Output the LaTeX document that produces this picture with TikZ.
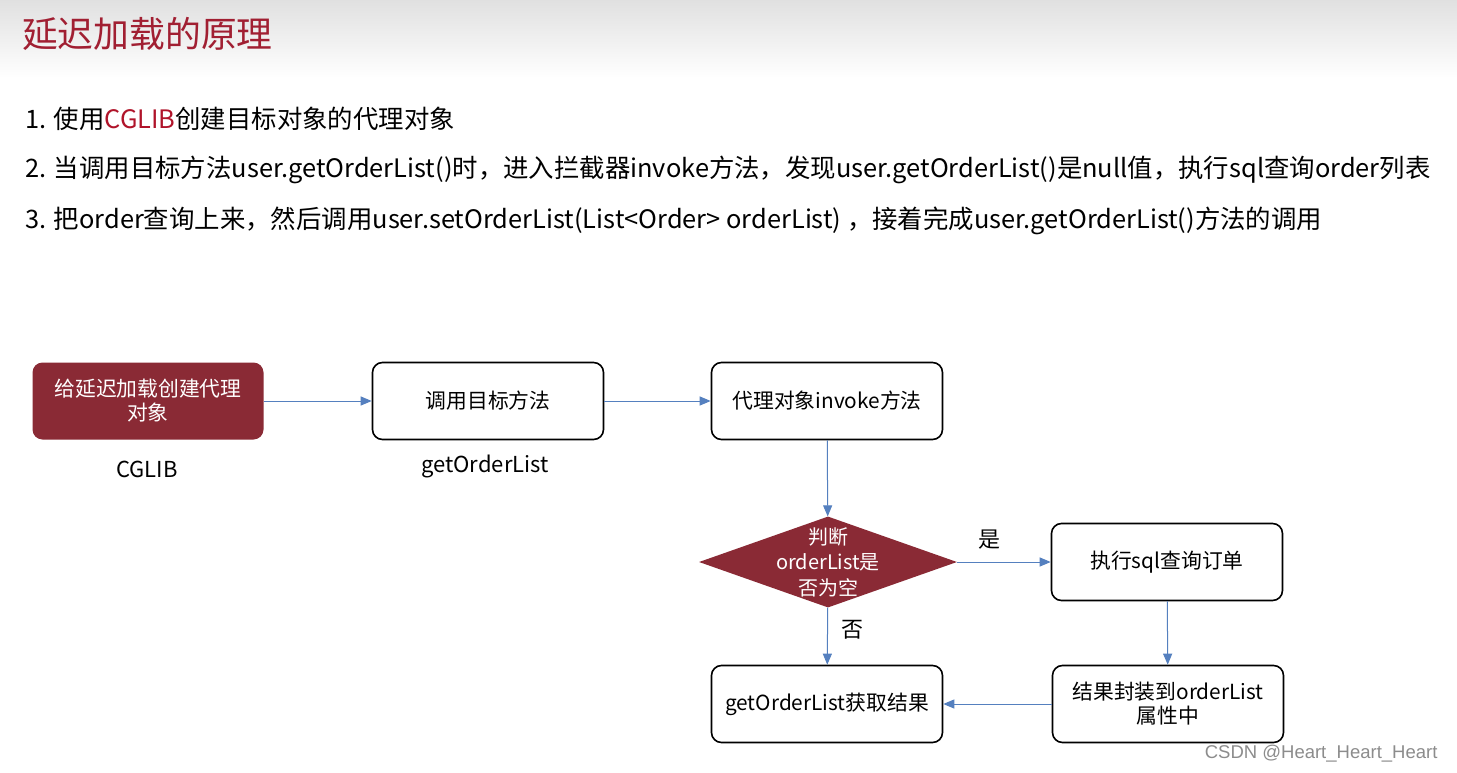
\documentclass[tikz,border=0pt]{standalone}
\usepackage{fontspec}
\setmainfont{Noto Sans CJK SC}
\newfontfamily\markfont{Liberation Sans}
\usetikzlibrary{shapes.geometric,arrows.meta}
\definecolor{titlered}{HTML}{A11F32}
\definecolor{boxred}{HTML}{8A2A35}
\definecolor{linkblue}{HTML}{5580BF}
\definecolor{cglibred}{HTML}{B0142A}
\begin{document}
\begin{tikzpicture}[x=1pt,y=-1pt,
		box/.style={draw=black,line width=1.6pt,rounded corners=10pt,minimum width=231pt,minimum height=77pt,align=center,font=\fontsize{20.8}{24}\selectfont},
		redbox/.style={box,draw=none,fill=boxred,text=white},
		link/.style={draw=linkblue,line width=1pt,-{Triangle[length=11pt,width=9pt]}},
		lbl/.style={font=\fontsize{22}{24}\selectfont},
		item/.style={anchor=west,inner sep=0pt,font=\fontsize{25.4}{28}\selectfont}]
	\fill[white] (0,0) rectangle (1457,773);
	\shade[top color=black!12,bottom color=white] (0,0) rectangle (1457,78);
	\useasboundingbox (0,0) rectangle (1457,773);
	\node[anchor=west,inner sep=0pt,text=titlered,font=\fontsize{35.8}{40}\selectfont] (title) at (22,34) {延迟加载的原理};
	\node[item] (step1) at (25,119) {1. 使用\textcolor{cglibred}{CGLIB}创建目标对象的代理对象};
	\node[item] (step2) at (25,170) {2. 当调用目标方法user.getOrderList()时，进入拦截器invoke方法，发现user.getOrderList()是null值，执行sql查询order列表};
	\node[item] (step3) at (25,221) {3. 把order查询上来，然后调用user.setOrderList(List<Order> orderList) ，接着完成user.getOrderList()方法的调用};
	\node[redbox] (proxy) at (148,401) {给延迟加载创建代理\\对象};
	\node[box] (call) at (488,401) {调用目标方法};
	\node[box] (invoke) at (827,401) {代理对象invoke方法};
	\node[diamond,fill=boxred,minimum width=258pt,minimum height=91pt,inner sep=0pt] (check) at (828,562) {};
	\node[align=center,text=white,font=\fontsize{20}{25.5}\selectfont] (checktxt) at (check) {判断\\orderList是\\否为空};
	\node[box] (query) at (1167,562) {执行sql查询订单};
	\node[box] (store) at (1168,704) {结果封装到orderList\\属性中};
	\node[box] (result) at (827,704) {getOrderList获取结果};
	\node[lbl] (cglib) at (147,469) {CGLIB};
	\node[lbl] (getter) at (485,466) {getOrderList};
	\draw[link] (proxy) -- (call);
	\draw[link] (call) -- (invoke);
	\draw[link] (invoke) -- (check);
	\draw[link] (check) -- node[lbl,pos=0.34,above=9pt] {是} (query);
	\draw[link] (check) -- node[lbl,pos=0.38,right=10pt] {否} (result);
	\draw[link] (query) -- (store);
	\draw[link] (store) -- (result);
	\node[anchor=east,text=black!45,font=\markfont\fontsize{18.5}{20}\selectfont] (mark) at (1441,754) {CSDN @Heart\_Heart\_Heart};
\end{tikzpicture}
\end{document}
